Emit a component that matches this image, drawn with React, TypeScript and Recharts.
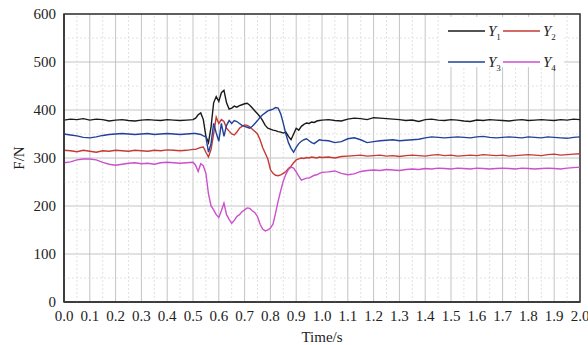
import {
  LineChart,
  Line,
  XAxis,
  YAxis,
  CartesianGrid,
  ReferenceLine,
  ReferenceArea,
} from 'recharts'

// time stamps (s): coarse before the event, fine around it, coarse after
const timeBefore = [
  0, 0.025, 0.05, 0.075, 0.1, 0.125, 0.15, 0.175, 0.2, 0.225, 0.25, 0.275, 0.3, 0.325, 0.35,
  0.375, 0.4, 0.425, 0.45, 0.475, 0.5,
]
const timeEvent = [
  0.51, 0.52, 0.53, 0.54, 0.55, 0.56, 0.57, 0.58, 0.59, 0.6, 0.61, 0.62, 0.63, 0.64, 0.65,
  0.66, 0.67, 0.68, 0.69, 0.7, 0.71, 0.72, 0.73, 0.74, 0.75, 0.76, 0.77, 0.78, 0.79, 0.8,
  0.81, 0.82, 0.83, 0.84, 0.85, 0.86, 0.87, 0.88, 0.89, 0.9, 0.91, 0.92, 0.93, 0.94, 0.95,
  0.96, 0.97, 0.98, 0.99, 1.0,
]
const timeAfter = [
  1.025, 1.05, 1.075, 1.1, 1.125, 1.15, 1.175, 1.2, 1.225, 1.25, 1.275, 1.3, 1.325, 1.35,
  1.375, 1.4, 1.425, 1.45, 1.475, 1.5, 1.525, 1.55, 1.575, 1.6, 1.625, 1.65, 1.675, 1.7,
  1.725, 1.75, 1.775, 1.8, 1.825, 1.85, 1.875, 1.9, 1.925, 1.95, 1.975, 2.0,
]

const y1 = [
  // before
  379, 381, 380, 382, 379, 381, 380, 377, 379, 380, 378, 377, 379, 380, 379, 378, 380, 379,
  378, 379, 380,
  // event
  383, 390, 394, 380, 345, 332, 365, 415, 428, 418, 436, 441, 415, 402, 404, 408, 406, 409,
  411, 413, 414, 410, 404, 398, 392, 386, 378, 368, 362, 360, 358, 357, 355, 354, 352, 354,
  345, 338, 350, 362, 358, 366, 370, 373, 372, 375, 374, 377, 378, 379,
  // after
  380, 378, 377, 381, 383, 382, 380, 384, 383, 382, 381, 380, 378, 379, 376, 380, 381, 379,
  378, 380, 379, 377, 376, 379, 378, 380, 379, 378, 377, 379, 380, 378, 379, 380, 379, 378,
  380, 379, 381, 380,
]
const y2 = [
  316, 315, 313, 316, 314, 312, 315, 314, 316, 315, 314, 316, 315, 314, 316, 315, 317, 316,
  315, 316, 318,
  318, 320, 322, 323, 312, 302, 318, 350, 385, 372, 380, 376, 362, 356, 350, 348, 354, 362,
  366, 369, 368, 365, 360, 355, 350, 338, 322, 310, 298, 276, 268, 264, 263, 265, 268, 272,
  278, 283, 290, 296, 298, 300, 299, 301, 300, 302, 301, 300, 302, 301,
  302, 300, 303, 304, 305, 306, 304, 305, 306, 304, 305, 303, 305, 306, 305, 304, 306, 307,
  305, 306, 304, 305, 306, 305, 307, 306, 305, 306, 304, 305, 306, 307, 306, 305, 307, 308,
  306, 307, 308, 309,
]
const y3 = [
  350, 348, 346, 343, 342, 344, 347, 349, 350, 351, 350, 349, 350, 351, 349, 350, 351, 350,
  349, 350, 351,
  351, 350, 349, 346, 344, 312, 330, 372, 352, 335, 372, 345, 368, 378, 372, 378, 376, 372,
  368, 366, 364, 362, 366, 372, 378, 385, 390, 394, 398, 400, 402, 405, 404, 392, 372, 350,
  332, 320, 312, 322, 330, 335, 338, 340, 336, 332, 330, 334, 338, 337,
  336, 332, 334, 340, 342, 338, 332, 334, 336, 337, 338, 336, 337, 338, 339, 342, 344, 343,
  342, 343, 344, 343, 342, 344, 345, 343, 342, 343, 344, 343, 342, 344, 343, 342, 344, 343,
  342, 341, 343, 344,
]
const y4 = [
  290, 292, 296, 298, 298, 296, 291, 287, 285, 287, 289, 290, 288, 289, 287, 290, 291, 290,
  289, 290, 291,
  285, 272, 288, 284, 268, 225, 200, 192, 182, 176, 190, 206, 182, 172, 164, 170, 178, 182,
  188, 192, 196, 195, 190, 186, 178, 162, 152, 148, 150, 154, 162, 185, 210, 232, 252, 266,
  276, 281, 279, 271, 262, 254, 256, 258, 258, 261, 264, 265, 268, 270,
  271, 273, 268, 265, 267, 272, 274, 275, 274, 276, 275, 274, 276, 277, 276, 278, 277, 279,
  278, 277, 279, 278, 277, 279, 278, 277, 278, 279, 278, 277, 279, 278, 277, 278, 279, 278,
  277, 279, 280, 281,
]

const xTicks = [
  0, 0.1, 0.2, 0.3, 0.4, 0.5, 0.6, 0.7, 0.8, 0.9, 1.0, 1.1, 1.2, 1.3, 1.4, 1.5, 1.6, 1.7,
  1.8, 1.9, 2.0,
]
const yTicks = [0, 100, 200, 300, 400, 500, 600]
const xMinor = [
  0.05, 0.15, 0.25, 0.35, 0.45, 0.55, 0.65, 0.75, 0.85, 0.95, 1.05, 1.15, 1.25, 1.35, 1.45,
  1.55, 1.65, 1.75, 1.85, 1.95,
]
const yMinor = [50, 150, 250, 350, 450, 550]

const series = [
  { key: 'y1', sub: '1', color: '#1a1a1a' },
  { key: 'y2', sub: '2', color: '#c43a34' },
  { key: 'y3', sub: '3', color: '#22419a' },
  { key: 'y4', sub: '4', color: '#cc4fcc' },
]

const time = [...timeBefore, ...timeEvent, ...timeAfter]
const rows = time.map((t, i) => ({ t, y1: y1[i], y2: y2[i], y3: y3[i], y4: y4[i] }))

const FONT = '"Liberation Serif", "Times New Roman", serif'
const tickStyle = { fontSize: 15, fill: '#222', fontFamily: FONT }

function LegendBox() {
  const pos = [
    { x: 8, y: 14 },
    { x: 63, y: 14 },
    { x: 8, y: 45 },
    { x: 63, y: 45 },
  ]
  return (
    <svg
      width={124}
      height={50}
      style={{ position: 'absolute', left: 440, top: 17, background: '#fff', overflow: 'visible' }}
    >
      {series.map((s, i) => (
        <g key={s.key}>
          <line x1={pos[i].x} x2={pos[i].x + 37} y1={pos[i].y} y2={pos[i].y} stroke={s.color} strokeWidth={1.5} />
          <text x={pos[i].x + 40} y={pos[i].y + 5} fontFamily={FONT} fontSize={15} fontStyle="italic" fill="#222">
            Y
            <tspan fontSize={9} fontStyle="normal" dy={4}>
              {s.sub}
            </tspan>
          </text>
        </g>
      ))}
    </svg>
  )
}

export default function App() {
  return (
    <div style={{ position: 'relative', width: 588, height: 345, background: '#fff', fontFamily: FONT }}>
      <style>{'body{margin:0}'}</style>
      <LineChart width={588} height={345} data={rows} margin={{ top: 14, right: 8, bottom: 0, left: 0 }}>
        <CartesianGrid stroke="#c4c4c4" strokeWidth={1} />
        {xMinor.map((v) => (
          <ReferenceLine key={'x' + v} x={v} stroke="#e2e2e2" strokeDasharray="2 2" />
        ))}
        {yMinor.map((v) => (
          <ReferenceLine key={'y' + v} y={v} stroke="#e2e2e2" strokeDasharray="2 2" />
        ))}
        <XAxis
          dataKey="t"
          type="number"
          domain={[0, 2]}
          ticks={xTicks}
          interval={0}
          tickFormatter={(v: number) => v.toFixed(1)}
          tick={tickStyle}
          tickLine={false}
          axisLine={{ stroke: '#333', strokeWidth: 1.5 }}
          height={43}
          label={{ value: 'Time/s', position: 'insideBottom', offset: 3, style: tickStyle }}
        />
        <YAxis
          type="number"
          domain={[0, 600]}
          ticks={yTicks}
          interval={0}
          tick={tickStyle}
          tickLine={false}
          axisLine={{ stroke: '#333', strokeWidth: 1.5 }}
          width={64}
        />
        {series.map((s) => (
          <Line
            key={s.key}
            type="linear"
            dataKey={s.key}
            stroke={s.color}
            strokeWidth={1.4}
            dot={false}
            isAnimationActive={false}
          />
        ))}
        <ReferenceArea x1={0} x2={2} y1={0} y2={600} fill="none" stroke="#333" strokeWidth={1.5} />
      </LineChart>
      <div
        style={{
          position: 'absolute',
          left: 19,
          top: 158,
          transform: 'translate(-50%, -50%) rotate(-90deg)',
          fontSize: 15,
          color: '#222',
          whiteSpace: 'nowrap',
        }}
      >
        F/N
      </div>
      <LegendBox />
    </div>
  )
}
